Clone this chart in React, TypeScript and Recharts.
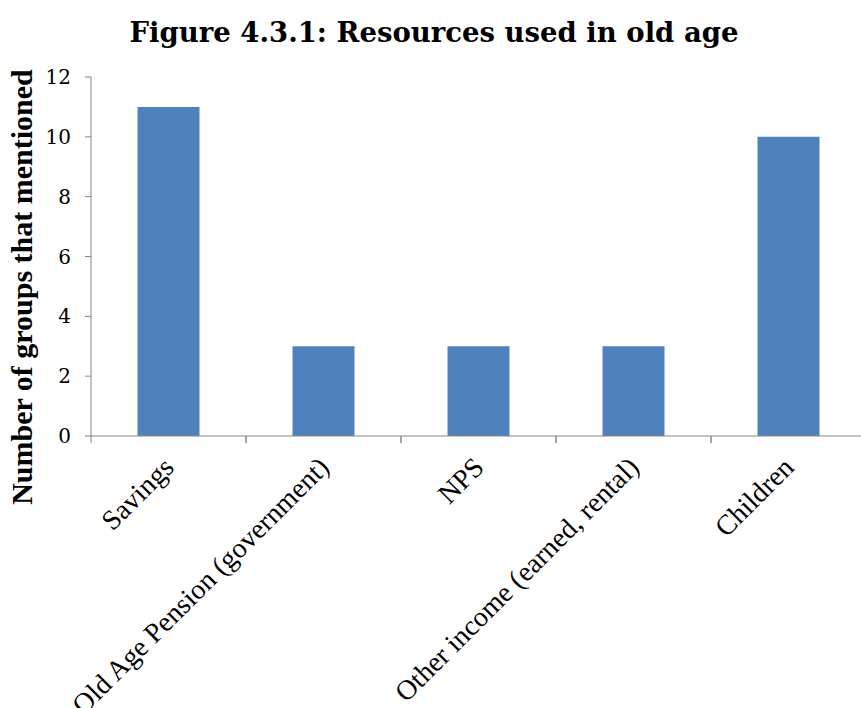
import { BarChart, Bar, XAxis, YAxis } from "recharts";

const categories = [
  "Savings",
  "Old Age Pension (government)",
  "NPS",
  "Other income (earned, rental)",
  "Children",
];
const groupCounts = [11, 3, 3, 3, 10];
const yTicks = [0, 2, 4, 6, 8, 10, 12];

const data = categories.map((name, i) => ({ name, groups: groupCounts[i] }));

const AXIS = "#868686";

interface TickProps {
  x?: number;
  y?: number;
  width?: number;
  visibleTicksCount?: number;
  payload?: { value: string };
}

// Excel-style: tick marks sit on category boundaries, labels rotated 45deg
function CategoryTick({ x = 0, y = 0, width, visibleTicksCount, payload }: TickProps) {
  const half = width && visibleTicksCount ? width / visibleTicksCount / 2 : 77.5;
  const px = x + 7;
  const py = y + 33;
  return (
    <g>
      <line x1={x - half} x2={x - half} y1={y} y2={y + 7} stroke={AXIS} />
      <line x1={x + half} x2={x + half} y1={y} y2={y + 7} stroke={AXIS} />
      <text
        x={px}
        y={py}
        textAnchor="end"
        transform={`rotate(-45, ${px}, ${py})`}
        fontFamily="'Liberation Serif', serif"
        fontSize={28}
        fill="#000"
      >
        {payload?.value}
      </text>
    </g>
  );
}

function YTitle() {
  return (
    <text
      x={32}
      y={287}
      textAnchor="middle"
      transform="rotate(-90, 32, 287)"
      fontFamily="'Liberation Serif', serif"
      fontWeight="bold"
      fontSize={30}
      fill="#000"
    >
      Number of groups that mentioned
    </text>
  );
}

export default function App() {
  return (
    <div
      style={{
        position: "absolute",
        top: 0,
        left: 0,
        width: 861,
        height: 708,
        overflow: "hidden",
        background: "#fff",
      }}
    >
      <svg
        width={861}
        height={60}
        style={{ position: "absolute", top: 0, left: 0 }}
      >
        <text
          x={434}
          y={42}
          textAnchor="middle"
          fontFamily="'DejaVu Serif', serif"
          fontWeight="bold"
          fontSize={27.5}
          fill="#000"
        >
          Figure 4.3.1: Resources used in old age
        </text>
      </svg>
      <BarChart
        width={870}
        height={708}
        data={data}
        margin={{ top: 77, right: 4, bottom: 0, left: 0 }}
        barCategoryGap="30%"
      >
        <XAxis
          dataKey="name"
          height={272}
          stroke={AXIS}
          tickLine={false}
          tickSize={0}
          tickMargin={0}
          interval={0}
          tick={<CategoryTick />}
        />
        <YAxis
          width={91}
          domain={[0, 12]}
          ticks={yTicks}
          tickSize={6}
          tickMargin={14}
          stroke={AXIS}
          tick={{
            fill: "#000",
            fontSize: 20,
            fontFamily: "'DejaVu Serif', serif",
          }}
          label={<YTitle />}
        />
        <Bar dataKey="groups" fill="#4F81BD" isAnimationActive={false} />
      </BarChart>
    </div>
  );
}
